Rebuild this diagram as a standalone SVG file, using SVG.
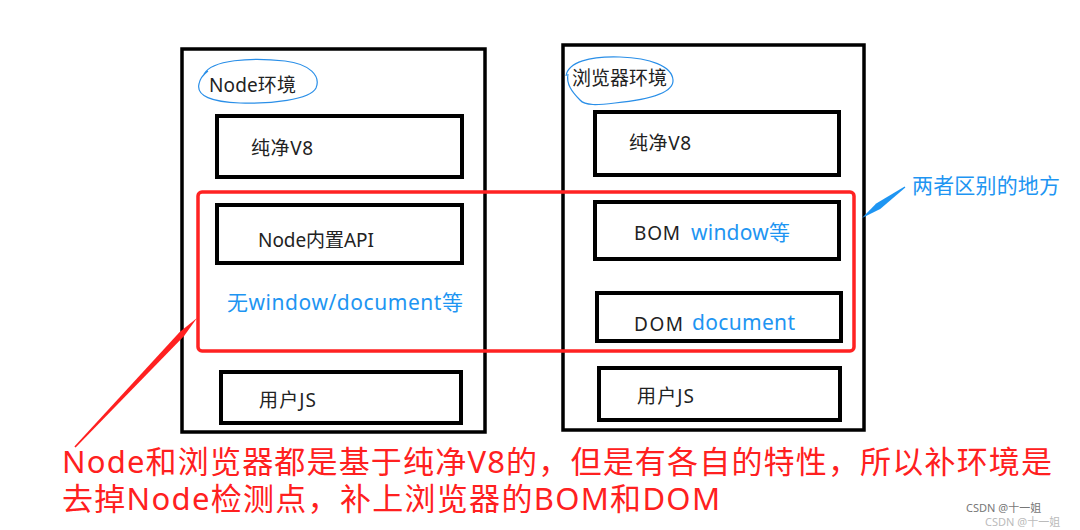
<svg xmlns="http://www.w3.org/2000/svg" width="1080" height="530" viewBox="0 0 1080 530">
<style>
  .outer { fill: none; stroke: #000; stroke-width: 3.5; }
  .box { fill: none; stroke: #000; stroke-width: 4; }
  .t { font-family: "Noto Sans", "Noto Sans CJK SC", sans-serif; fill: #222; font-size: 19px; }
  .blue { font-family: "Noto Sans", "Noto Sans CJK SC", sans-serif; fill: #1e95f2; font-size: 21px; }
  .hand { fill: none; stroke: #2a8fe8; stroke-width: 1.2; }
  .diff { fill: none; stroke: #ff2222; stroke-width: 3.5; }
  .note { font-family: "Noto Sans", "Noto Sans CJK SC", sans-serif; fill: #ff2020; font-size: 31px; }
  .wm { font-family: "Noto Sans", "Noto Sans CJK SC", sans-serif; font-size: 11px; }
</style>
<rect width="1080" height="530" fill="#fff"/>

<g id="node-env">
  <rect class="outer" x="182" y="49" width="303" height="383"/>
  <path class="hand" d="M204,74 C212,60 250,57 285,61 C310,64 321,76 316,88 C310,100 270,104 240,103 C212,102 196,96 199,84 C200,78 204,74 208,71"/>
  <text class="t" x="209" y="92" textLength="87">Node环境</text>
</g>
<g id="node-v8">
  <rect class="box" x="217" y="116" width="245" height="61"/>
  <text class="t" x="251" y="155" textLength="62">纯净V8</text>
</g>
<g id="node-api">
  <rect class="box" x="217" y="205" width="245" height="58"/>
  <text class="t" x="258" y="247" textLength="116">Node内置API</text>
  <text class="blue" x="227" y="310" textLength="236">无window/document等</text>
</g>
<g id="node-userjs">
  <rect class="box" x="221" y="372" width="240" height="51"/>
  <text class="t" x="259" y="407" textLength="57">用户JS</text>
</g>

<g id="browser-env">
  <rect class="outer" x="563" y="45" width="301" height="385"/>
  <path class="hand" d="M566,76 C568,62 590,56 620,57 C650,58 672,66 673,80 C674,94 645,100 615,103 C598,105 585,106 580,100 C572,92 566,84 568,74"/>
  <text class="t" x="572" y="85" textLength="95">浏览器环境</text>
</g>
<g id="browser-v8">
  <rect class="box" x="595" y="112" width="244" height="63"/>
  <text class="t" x="629" y="150" textLength="62">纯净V8</text>
</g>
<g id="browser-bom">
  <rect class="box" x="595" y="202" width="244" height="57"/>
  <text class="t" x="634" y="240" textLength="46">BOM</text>
  <text class="blue" x="691" y="240" textLength="99">window等</text>
</g>
<g id="browser-dom">
  <rect class="box" x="597" y="293" width="244" height="48"/>
  <text class="t" x="634" y="331" textLength="49">DOM</text>
  <text class="blue" x="692" y="330" textLength="103">document</text>
</g>
<g id="browser-userjs">
  <rect class="box" x="599" y="368" width="241" height="52"/>
  <text class="t" x="637" y="403" textLength="57">用户JS</text>
</g>

<g id="difference-region">
  <rect class="diff" x="198" y="192" width="656" height="159" rx="4"/>
  <text class="blue" x="912" y="193" textLength="148">两者区别的地方</text>
</g>

<g id="connectors">
  <polygon fill="#ff2020" points="74.4,446.5 179.7,331.9 197,318 184.1,336.1 75.6,447.5"/>
  <polygon fill="#1e95f2" points="904.65,186.5 876.2,203.5 862,218 880.2,209.1 905.35,187.5"/>
</g>

<g id="note">
  <text class="note" x="62" y="473" textLength="990">Node和浏览器都是基于纯净V8的，但是有各自的特性，所以补环境是</text>
  <text class="note" x="62" y="510" textLength="658">去掉Node检测点，补上浏览器的BOM和DOM</text>
</g>

<g id="watermark">
  <text class="wm" x="966" y="512" fill="#777">CSDN @十一姐</text>
  <text class="wm" x="985" y="526" fill="#bbb">CSDN @十一姐</text>
</g>
</svg>
